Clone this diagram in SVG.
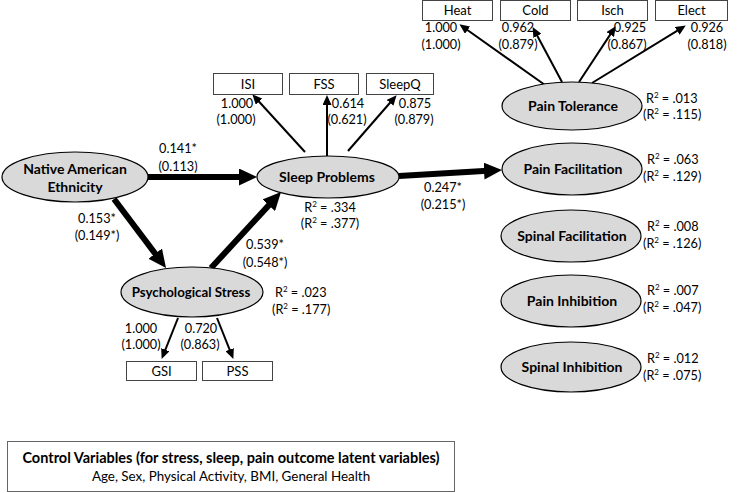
<svg xmlns="http://www.w3.org/2000/svg" width="740" height="493" viewBox="0 0 740 493">
<style>
text{font-family:Lato,"Open Sans","Liberation Sans",sans-serif;fill:#000;}
.v{font-size:12.7px;}
.m{text-anchor:middle;}
.lat{font-size:14px;font-weight:bold;text-anchor:middle;}
.ell{fill:#d9d9d9;stroke:#000;stroke-width:1.2;}
.box{fill:#fff;stroke:#444;stroke-width:1;}
.bl{font-size:13px;text-anchor:middle;}
.thick{stroke:#000;stroke-width:6;fill:none;marker-end:url(#hb);}
.thin{stroke:#000;stroke-width:2;fill:none;marker-end:url(#hs);}
</style>
<defs>
<marker id="hb" markerUnits="userSpaceOnUse" markerWidth="18" markerHeight="17" refX="8" refY="8.5" orient="auto"><path d="M0,0 L18,8.5 L0,17 z" fill="#000"/></marker>
<marker id="hs" markerUnits="userSpaceOnUse" markerWidth="10" markerHeight="9" refX="5" refY="4.5" orient="auto"><path d="M0,0 L10,4.5 L0,9 z" fill="#000"/></marker>
</defs>
<g id="connectors">
<line class="thick" x1="148" y1="177" x2="247" y2="177"/>
<line class="thick" x1="114" y1="199" x2="160" y2="260"/>
<line class="thick" x1="211" y1="268" x2="274.2" y2="199.4"/>
<line class="thick" x1="399" y1="176" x2="492" y2="170.6"/>
<line class="thin" x1="305" y1="152" x2="255.7" y2="98"/>
<line class="thin" x1="327" y1="156" x2="327" y2="100"/>
<line class="thin" x1="348" y1="151" x2="393.3" y2="99"/>
<line class="thin" x1="545" y1="85" x2="463.5" y2="27.2"/>
<line class="thin" x1="562" y1="82" x2="535" y2="31.5"/>
<line class="thin" x1="579" y1="82" x2="613" y2="30.4"/>
<line class="thin" x1="592" y1="83" x2="681.5" y2="28.2"/>
<line class="thin" x1="178" y1="318" x2="163.5" y2="354.3"/>
<line class="thin" x1="217" y1="318" x2="231.5" y2="354.3"/>
</g>
<g id="native">
<ellipse class="ell" cx="75" cy="177" rx="73" ry="25"/>
<text class="lat" x="75" y="174">Native American</text>
<text class="lat" x="75" y="192">Ethnicity</text>
</g>
<g id="sleep">
<ellipse class="ell" cx="328" cy="177" rx="71" ry="21"/>
<text class="lat" x="327" y="182">Sleep Problems</text>
</g>
<g id="stress">
<ellipse class="ell" cx="192" cy="292" rx="71" ry="25"/>
<text class="lat" x="191" y="297" style="font-size:13.3px">Psychological Stress</text>
</g>
<g id="paintol">
<ellipse class="ell" cx="572" cy="106" rx="70" ry="24"/>
<text class="lat" x="573" y="111">Pain Tolerance</text>
</g>
<g id="painfac">
<ellipse class="ell" cx="572" cy="169" rx="70" ry="26"/>
<text class="lat" x="573" y="174">Pain Facilitation</text>
</g>
<g id="spinalfac">
<ellipse class="ell" cx="571" cy="236" rx="70" ry="26"/>
<text class="lat" x="572" y="241">Spinal Facilitation</text>
</g>
<g id="paininh">
<ellipse class="ell" cx="571" cy="301" rx="70" ry="26"/>
<text class="lat" x="572" y="306">Pain Inhibition</text>
</g>
<g id="spinalinh">
<ellipse class="ell" cx="571" cy="367" rx="70" ry="25"/>
<text class="lat" x="572" y="372">Spinal Inhibition</text>
</g>
<g id="isi"><rect class="box" x="213.5" y="73.5" width="69" height="21"/><text class="bl" x="248" y="89">ISI</text></g>
<g id="fss"><rect class="box" x="289.5" y="73.5" width="69" height="21"/><text class="bl" x="324" y="89">FSS</text></g>
<g id="sleepq"><rect class="box" x="366.5" y="73.5" width="67" height="21"/><text class="bl" x="400" y="89">SleepQ</text></g>
<g id="heat"><rect class="box" x="422.5" y="0.5" width="70" height="20"/><text class="bl" x="457.5" y="15">Heat</text></g>
<g id="cold"><rect class="box" x="500.5" y="0.5" width="70" height="20"/><text class="bl" x="535.5" y="15">Cold</text></g>
<g id="isch"><rect class="box" x="577.5" y="0.5" width="70" height="20"/><text class="bl" x="612.5" y="15">Isch</text></g>
<g id="elect"><rect class="box" x="655.5" y="0.5" width="72" height="20"/><text class="bl" x="691.5" y="15">Elect</text></g>
<g id="gsi"><rect class="box" x="126.5" y="361.5" width="70" height="19"/><text class="bl" x="161.5" y="376">GSI</text></g>
<g id="pss"><rect class="box" x="202.5" y="361.5" width="70" height="19"/><text class="bl" x="237.5" y="376">PSS</text></g>
<g id="labels" class="v">
<text class="m" x="178" y="153">0.141*</text><text class="m" x="178" y="171">(0.113)</text>
<text class="m" x="97" y="223">0.153*</text><text class="m" x="97" y="240">(0.149*)</text>
<text class="m" x="265" y="249">0.539*</text><text class="m" x="265" y="267">(0.548*)</text>
<text class="m" x="443" y="192">0.247*</text><text class="m" x="443" y="209">(0.215*)</text>
<text class="m" x="237" y="108">1.000</text><text class="m" x="236" y="124">(1.000)</text>
<text class="m" x="348" y="108">0.614</text><text class="m" x="347" y="124">(0.621)</text>
<text class="m" x="415" y="108">0.875</text><text class="m" x="414" y="124">(0.879)</text>
<text class="m" x="441" y="32">1.000</text><text class="m" x="441" y="49">(1.000)</text>
<text class="m" x="518" y="32">0.962</text><text class="m" x="518" y="49">(0.879)</text>
<text class="m" x="630" y="32">0.925</text><text class="m" x="627" y="49">(0.867)</text>
<text class="m" x="707" y="32">0.926</text><text class="m" x="707" y="49">(0.818)</text>
<text class="m" x="141" y="333">1.000</text><text class="m" x="141" y="349">(1.000)</text>
<text class="m" x="201" y="333">0.720</text><text class="m" x="200" y="349">(0.863)</text>
<text class="m" x="330" y="212">R<tspan font-size="8" dy="-5">2</tspan><tspan dy="5"> = .334</tspan></text>
<text class="m" x="330" y="228">(R<tspan font-size="8" dy="-5">2</tspan><tspan dy="5"> = .377)</tspan></text>
<text x="275" y="297">R<tspan font-size="8" dy="-5">2</tspan><tspan dy="5"> = .023</tspan></text>
<text x="272" y="314">(R<tspan font-size="8" dy="-5">2</tspan><tspan dy="5"> = .177)</tspan></text>
<text x="646" y="103">R<tspan font-size="8" dy="-5">2</tspan><tspan dy="5"> = .013</tspan></text>
<text x="643" y="119">(R<tspan font-size="8" dy="-5">2</tspan><tspan dy="5"> = .115)</tspan></text>
<text x="647" y="164">R<tspan font-size="8" dy="-5">2</tspan><tspan dy="5"> = .063</tspan></text>
<text x="643" y="181">(R<tspan font-size="8" dy="-5">2</tspan><tspan dy="5"> = .129)</tspan></text>
<text x="647" y="231">R<tspan font-size="8" dy="-5">2</tspan><tspan dy="5"> = .008</tspan></text>
<text x="643" y="248">(R<tspan font-size="8" dy="-5">2</tspan><tspan dy="5"> = .126)</tspan></text>
<text x="647" y="295">R<tspan font-size="8" dy="-5">2</tspan><tspan dy="5"> = .007</tspan></text>
<text x="643" y="312">(R<tspan font-size="8" dy="-5">2</tspan><tspan dy="5"> = .047)</tspan></text>
<text x="647" y="363">R<tspan font-size="8" dy="-5">2</tspan><tspan dy="5"> = .012</tspan></text>
<text x="643" y="380">(R<tspan font-size="8" dy="-5">2</tspan><tspan dy="5"> = .075)</tspan></text>
</g>
<g id="controls">
<rect x="7.5" y="441.5" width="447" height="50" fill="#fff" stroke="#666" stroke-width="1"/>
<text x="231" y="463" font-size="14.5" font-weight="bold" text-anchor="middle">Control Variables (for stress, sleep, pain outcome latent variables)</text>
<text x="231" y="481" font-size="13.4" text-anchor="middle">Age, Sex, Physical Activity, BMI, General Health</text>
</g>
</svg>
